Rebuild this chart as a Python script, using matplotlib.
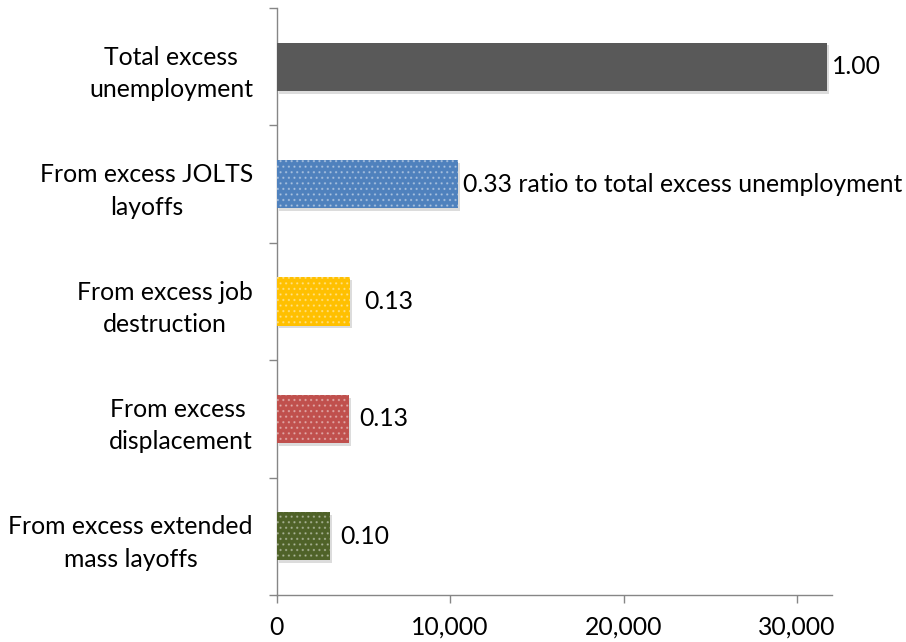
import matplotlib
matplotlib.use("Agg")
import matplotlib.pyplot as plt
import matplotlib.patheffects as pe
from matplotlib.ticker import FixedLocator, FuncFormatter

categories = ["Total excess\nunemployment",
              "From excess JOLTS\nlayoffs",
              "From excess job\ndestruction",
              "From excess \ndisplacement",
              "From excess extended\nmass layoffs"]
values = [31700, 10450, 4240, 4180, 3090]
labels = ["1.00", "0.33 ratio to total excess unemployment", "0.13", "0.13", "0.10"]
colors = ["#595959", "#4F81BD", "#FFC000", "#C0504D", "#4F6228"]
dotted = [False, True, True, True, True]
label_pad_px = [5, 5, 14, 10, 10]
x_ticks = [0, 10000, 20000, 30000]

plt.rcParams['font.family'] = ['Lato', 'DejaVu Sans']
plt.rcParams['hatch.linewidth'] = 0.9
FS = 17.8

fig = plt.figure(figsize=(9.06, 6.42), dpi=100)
ax = fig.add_axes([0.3052, 0.0732, 0.918 - 0.3052, 0.9875 - 0.0732])

ypos = list(range(len(categories)))
shadow = [pe.SimplePatchShadow(offset=(1.5, -2), shadow_rgbFace='#8c8c8c', alpha=0.3), pe.Normal()]
bars = ax.barh(ypos, values, height=0.41, color=colors, linewidth=0, zorder=3)
for b in bars:
    b.set_path_effects(shadow)
for i, (v, d) in enumerate(zip(values, dotted)):
    if d:
        ax.barh(ypos[i], v, height=0.41, fill=False, edgecolor=(1, 1, 1, 0.35),
                linewidth=0, hatch='...', zorder=4)

ax.set_xlim(0, 32000)
ax.set_ylim(len(categories) - 0.5, -0.5)

for i, (v, lab) in enumerate(zip(values, labels)):
    ax.annotate(lab, xy=(v, ypos[i]), xytext=(label_pad_px[i] * 0.72, 0),
                textcoords='offset points', va='center', ha='left', fontsize=FS,
                color='black')

ax.set_yticks(ypos)
ax.set_yticklabels(categories, fontsize=FS, multialignment='center', linespacing=1.5)
ax.yaxis.set_minor_locator(FixedLocator([i - 0.5 for i in range(len(categories) + 1)]))
ax.tick_params(axis='y', which='major', length=0, pad=17)
ax.tick_params(axis='y', which='minor', length=6, color='#868686', width=1)

ax.set_xticks(x_ticks)
ax.xaxis.set_major_formatter(FuncFormatter(lambda x, p: f"{int(x):,}"))
ax.tick_params(axis='x', which='major', length=6, color='#868686', width=1, labelsize=FS, pad=9)

for s in ['top', 'right']:
    ax.spines[s].set_visible(False)
for s in ['left', 'bottom']:
    ax.spines[s].set_color('#868686')
    ax.spines[s].set_linewidth(1)

fig.savefig("out.png", dpi=100)
